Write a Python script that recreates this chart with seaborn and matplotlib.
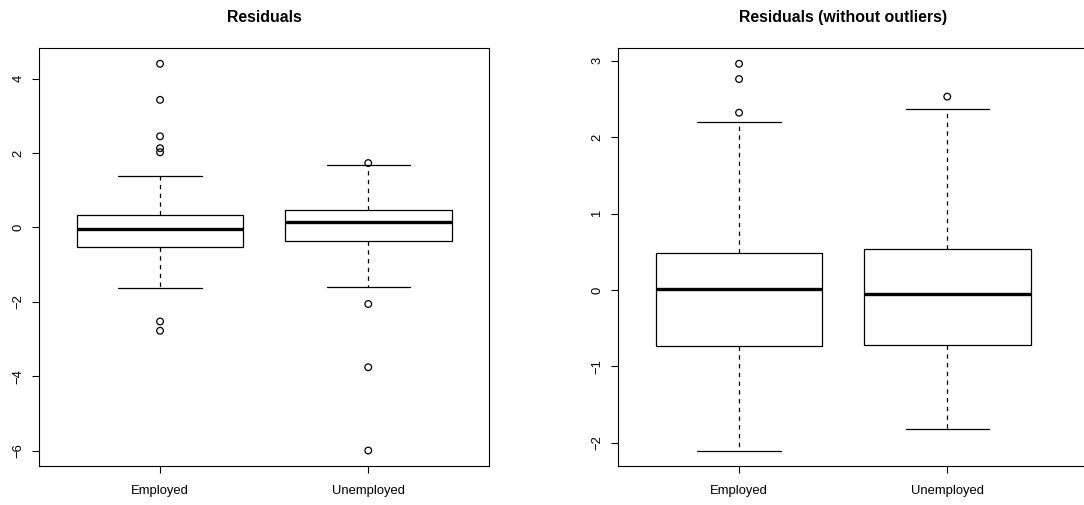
import matplotlib
matplotlib.use("Agg")
import numpy as np
import pandas as pd
import seaborn as sns
import matplotlib.pyplot as plt

# ---------------- data ----------------
categories = ["Employed", "Unemployed"]

# Left panel: "Residuals"
res_whislo = [-1.63, -1.59]
res_q1 = [-0.54, -0.37]
res_med = [-0.035, 0.135]
res_q3 = [0.32, 0.46]
res_whishi = [1.38, 1.68]
res_out_employed = [4.40, 3.43, 2.45, 2.13, 2.02, -2.53, -2.78]
res_out_unemployed = [1.73, -2.06, -3.76, -6.00]

# Right panel: "Residuals (without outliers)"
clean_whislo = [-2.10, -1.82]
clean_q1 = [-0.73, -0.716]
clean_med = [0.013, -0.052]
clean_q3 = [0.48, 0.54]
clean_whishi = [2.20, 2.37]
clean_out_employed = [2.96, 2.76, 2.32]
clean_out_unemployed = [2.53]

left_yticks = [-6, -4, -2, 0, 2, 4]
right_yticks = [-2, -1, 0, 1, 2, 3]

# ---------------- style ----------------
sns.set_style("ticks")
plt.rcParams['font.family'] = ['Liberation Sans', 'DejaVu Sans']
plt.rcParams['axes.edgecolor'] = 'black'
plt.rcParams['axes.linewidth'] = 0.8
plt.rcParams['text.color'] = 'black'

W, H = 1084, 505
fig = plt.figure(figsize=(W / 100, H / 100), dpi=100)


def px_axes(x0, x1, y0, y1):
    return fig.add_axes([x0 / W, 1 - y1 / H, (x1 - x0) / W, (y1 - y0) / H])


def draw_panel(ax, whislo, q1, med, q3, whishi, out_emp, out_unemp, title, yticks, xlim):
    stats = []
    for i, c in enumerate(categories):
        stats.append(dict(label=c, whislo=whislo[i], q1=q1[i], med=med[i],
                          q3=q3[i], whishi=whishi[i], fliers=[]))
    ax.bxp(stats, positions=[0, 1], widths=0.8, capwidths=0.4,
           showfliers=False, patch_artist=True,
           boxprops=dict(facecolor='white', edgecolor='black', linewidth=0.9),
           medianprops=dict(color='black', linewidth=2.4, solid_capstyle='butt'),
           whiskerprops=dict(color='black', linewidth=0.9, linestyle=(0, (3.5, 3.5))),
           capprops=dict(color='black', linewidth=0.9))

    df = pd.DataFrame({
        "group": ["Employed"] * len(out_emp) + ["Unemployed"] * len(out_unemp),
        "value": list(out_emp) + list(out_unemp),
    })
    sns.stripplot(data=df, x="group", y="value", order=categories, jitter=False,
                  marker="o", size=4.8, facecolor="none", edgecolor="black",
                  linewidth=0.9, ax=ax, zorder=3)

    allv = list(whislo) + list(whishi) + list(out_emp) + list(out_unemp)
    lo, hi = min(allv), max(allv)
    r = hi - lo
    ax.set_ylim(lo - 0.04 * r, hi + 0.04 * r)
    ax.set_xlim(*xlim)
    ax.set_xticks([0, 1])
    ax.set_xticklabels(categories)
    ax.set_yticks(yticks)
    ax.set_xlabel("")
    ax.set_ylabel("")
    ax.tick_params(axis='both', direction='out', length=5.3, width=0.8,
                   labelsize=9.4, color='black', labelcolor='black')
    ax.tick_params(axis='x', pad=8.5)
    ax.tick_params(axis='y', labelrotation=90, pad=5.5)
    for lab in ax.get_yticklabels():
        lab.set_verticalalignment('center')
    for s in ax.spines.values():
        s.set_visible(True)
        s.set_color('black')
        s.set_linewidth(0.8)
    ax.set_title(title, fontsize=11.4, fontweight='bold', pad=19.0, color='black')
    ax.grid(False)


ax1 = px_axes(39.3, 489.0, 48.3, 466.0)
draw_panel(ax1, res_whislo, res_q1, res_med, res_q3, res_whishi,
           res_out_employed, res_out_unemployed, "Residuals", left_yticks,
           (-0.58, 1.58))

# right panel extends past the canvas edge in the reference
ax2 = px_axes(618.3, 1090.0, 48.3, 466.0)
draw_panel(ax2, clean_whislo, clean_q1, clean_med, clean_q3, clean_whishi,
           clean_out_employed, clean_out_unemployed, "Residuals (without outliers)",
           right_yticks, (-0.58, -0.58 + (1090.0 - 618.3) / 208.2))
# keep title centred where the reference has it (centre of the nominal panel)
ax2.title.set_position(((843.2 - 618.3) / (1090.0 - 618.3), 1.0))

fig.savefig("out.png", dpi=100)
